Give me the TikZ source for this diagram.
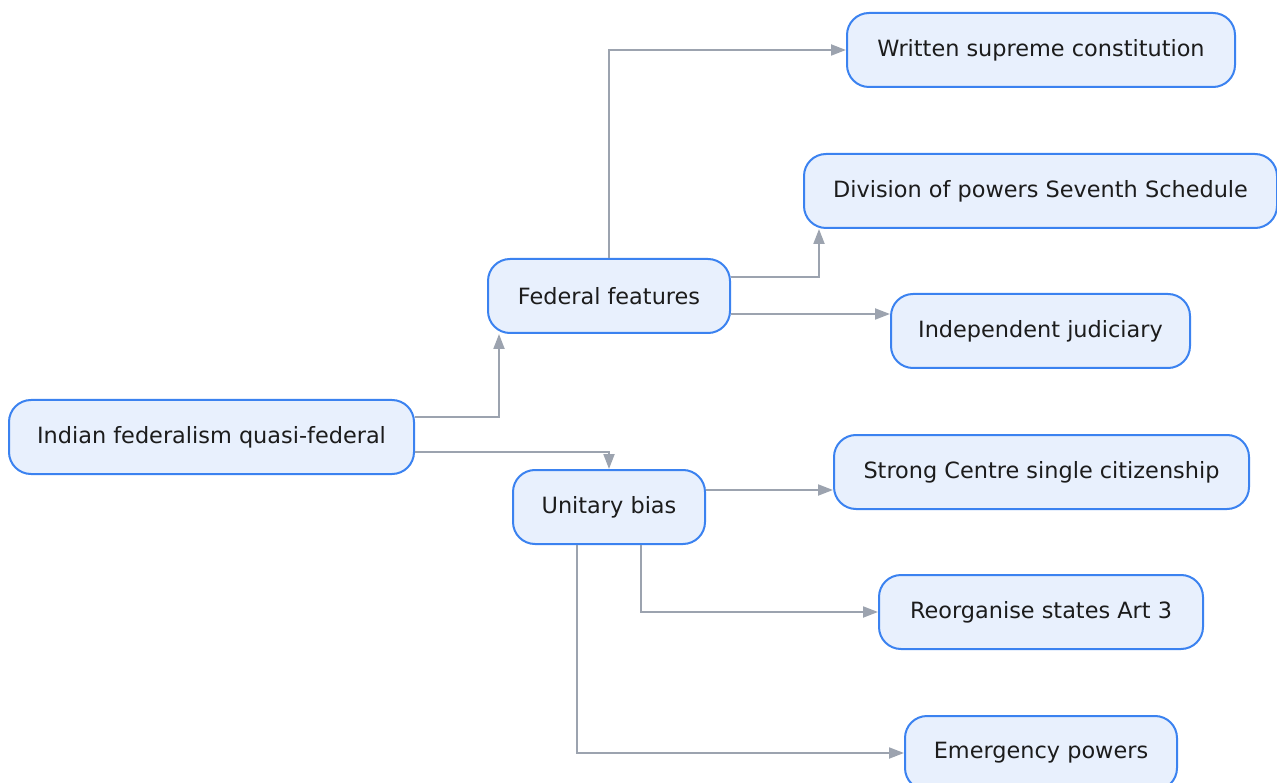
\documentclass[tikz,border=0pt]{standalone}
\usepackage{fontspec}
\setmainfont{DejaVu Sans}
\usetikzlibrary{arrows.meta}
\definecolor{boxfill}{HTML}{E8F0FD}
\definecolor{boxline}{HTML}{3B82F0}
\definecolor{boxtext}{HTML}{1C1C1C}
\definecolor{linkgray}{HTML}{9CA3AF}

\begin{document}
\begin{tikzpicture}[x=1pt,y=-1pt,
  box/.style={draw=boxline, fill=boxfill, line width=2pt, rounded corners=22pt,
    minimum height=74pt, inner sep=0pt, text=boxtext, font=\fontsize{22.4}{26}\selectfont},
  link/.style={draw=linkgray, line width=2pt, -{Triangle[length=15pt,width=11pt]}}]
\useasboundingbox (0,0) rectangle (1277,783);
% root and the two branches
\node[box, minimum width=405pt] (india) at (211.5,437) {Indian federalism quasi-federal};
\node[box, minimum width=242pt] (federal) at (609,296) {Federal features};
\node[box, minimum width=192pt] (unitary) at (609,507) {Unitary bias};
% leaves
\node[box, minimum width=388pt] (written) at (1041,50) {Written supreme constitution};
\node[box, minimum width=473pt] (division) at (1040.5,191) {Division of powers Seventh Schedule};
\node[box, minimum width=299pt] (judiciary) at (1040.5,331) {Independent judiciary};
\node[box, minimum width=415pt] (centre) at (1041.5,472) {Strong Centre single citizenship};
\node[box, minimum width=324pt] (reorg) at (1041,612) {Reorganise states Art 3};
\node[box, minimum width=272pt] (emergency) at (1041,753) {Emergency powers};
% connectors
\draw[link] ([yshift=20pt]india.east) -| ([xshift=12pt]federal.south west);
\draw[link] ([yshift=-15pt]india.east) -| (unitary.north);
\draw[link] (federal.north) |- (written.west);
\draw[link] ([yshift=19pt]federal.east) -| ([xshift=16pt]division.south west);
\draw[link] ([yshift=-18pt]federal.east) -- ([yshift=-18pt]federal.east -| judiciary.west);
\draw[link] ([yshift=17pt]unitary.east) -- ([yshift=17pt]unitary.east -| centre.west);
\draw[link] ([xshift=32pt]unitary.south) |- (reorg.west);
\draw[link] ([xshift=-32pt]unitary.south) |- (emergency.west);
\end{tikzpicture}
\end{document}
